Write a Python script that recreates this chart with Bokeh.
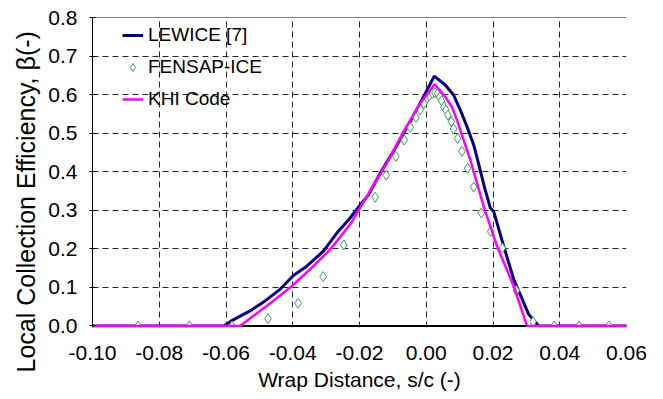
from bokeh.plotting import figure
from bokeh.models import Range1d, FixedTicker, Legend, LegendItem, Span, Title
from bokeh.embed import file_html
from bokeh.resources import INLINE

# ---- data ----
lewice_x = [-0.1000, -0.0606, -0.0584, -0.0528, -0.0483, -0.0438, -0.0398, -0.0358, -0.0308,
            -0.0268, -0.0228, -0.0208, -0.0173, -0.0138, -0.0093, -0.0048, -0.0013, 0.0024,
            0.0057, 0.0082, 0.0102, 0.0122, 0.0142, 0.0159, 0.0175, 0.0192, 0.0202, 0.0232,
            0.0262, 0.0307, 0.0337, 0.0600]
lewice_y = [0.0, 0.0, 0.013, 0.039, 0.065, 0.095, 0.131, 0.155, 0.194,
            0.241, 0.280, 0.303, 0.340, 0.396, 0.461, 0.530, 0.586, 0.648,
            0.625, 0.599, 0.560, 0.517, 0.470, 0.413, 0.358, 0.306, 0.297, 0.207,
            0.121, 0.030, 0.0, 0.0]

fensap_x = [-0.0864, -0.0710, -0.0582, -0.0474, -0.0384, -0.0309, -0.0247, -0.0153, -0.0120,
            -0.0091, -0.0066, -0.0048, -0.0031, -0.0018, -0.0007, 0.0002, 0.0010, 0.0018,
            0.0026, 0.0034, 0.0040, 0.0046, 0.0053, 0.0059, 0.0065, 0.0075, 0.0082, 0.0094,
            0.0107, 0.0124, 0.0142, 0.0165, 0.0193, 0.0228, 0.0270, 0.0320, 0.0383, 0.0458,
            0.0547]
fensap_y = [0.0, 0.0, 0.0, 0.019, 0.059, 0.128, 0.210, 0.334, 0.391,
            0.440, 0.482, 0.515, 0.541, 0.560, 0.577, 0.590, 0.598, 0.603,
            0.605, 0.603, 0.594, 0.584, 0.568, 0.560, 0.547, 0.530, 0.511, 0.486,
            0.453, 0.409, 0.360, 0.293, 0.245, 0.202, 0.092, 0.011, 0.0, 0.0,
            0.0]

khi_x = [-0.1011, -0.0558, -0.0518, -0.0458, -0.0403, -0.0348, -0.0288, -0.0228, -0.0178,
         -0.0118, -0.0068, -0.0018, 0.0025, 0.0057, 0.0077, 0.0092, 0.0112, 0.0132,
         0.0152, 0.0172, 0.0212, 0.0262, 0.0302, 0.0612]
khi_y = [0.0, 0.0, 0.026, 0.065, 0.103, 0.147, 0.198, 0.263, 0.336,
         0.422, 0.504, 0.577, 0.627, 0.594, 0.568, 0.534, 0.482, 0.431,
         0.371, 0.310, 0.207, 0.103, 0.0, 0.0]

x_ticks = [-0.10, -0.08, -0.06, -0.04, -0.02, 0.00, 0.02, 0.04, 0.06]
x_tick_labels = ["-0.10", "-0.08", "-0.06", "-0.04", "-0.02", "0.00", "0.02", "0.04", "0.06"]
y_ticks = [0.0, 0.1, 0.2, 0.3, 0.4, 0.5, 0.6, 0.7, 0.8]
y_tick_labels = ["0.0", "0.1", "0.2", "0.3", "0.4", "0.5", "0.6", "0.7", "0.8"]

series_names = ["LEWICE [7]", "FENSAP-ICE", "KHI Code"]
x_title = "Wrap Distance, s/c (-)"
y_title = "Local Collection Efficiency, \u03b2(-)"

FONT = "Liberation Sans"
GREEN = "#3f9a6a"

p = figure(width=663, height=399, output_backend="svg", toolbar_location=None,
           x_range=Range1d(-0.10, 0.06), y_range=Range1d(-0.004, 0.8))
p.min_border_left = 92
p.min_border_right = 37
p.min_border_top = 17
p.min_border_bottom = 72
p.outline_line_color = None
p.background_fill_color = "white"
p.border_fill_color = "white"

# axes
p.xaxis.ticker = FixedTicker(ticks=x_ticks)
p.xaxis.major_label_overrides = dict(zip(x_ticks, x_tick_labels))
p.xaxis.axis_line_color = None
p.xaxis.major_tick_line_color = None
p.xaxis.minor_tick_line_color = None
p.xaxis.major_label_standoff = 12
p.xaxis.axis_label = x_title
p.xaxis.axis_label_standoff = 5

p.yaxis.ticker = FixedTicker(ticks=y_ticks)
p.yaxis.major_label_overrides = dict(zip(y_ticks, y_tick_labels))
p.yaxis.axis_line_color = "black"
p.yaxis.axis_line_width = 1
p.yaxis.major_tick_line_color = "black"
p.yaxis.major_tick_in = 3
p.yaxis.major_tick_out = 3
p.yaxis.minor_tick_line_color = None
p.yaxis.major_label_standoff = 12

for ax in (p.xaxis, p.yaxis):
    ax.major_label_text_font = FONT
    ax.major_label_text_font_size = "21px"
    ax.major_label_text_color = "black"
    ax.axis_label_text_font = FONT
    ax.axis_label_text_font_style = "normal"
    ax.axis_label_text_color = "black"
p.xaxis.axis_label_text_font_size = "21px"

# y title placed as a side title so it can start below the frame, as in the reference
ytitle = Title(text=y_title, align="left", offset=-45, standoff=12,
               text_font=FONT, text_font_size="25px", text_font_style="normal",
               text_color="black")
p.add_layout(ytitle, "left")

# grids
p.xgrid.ticker = FixedTicker(ticks=x_ticks)
p.ygrid.ticker = FixedTicker(ticks=y_ticks)
for g in (p.xgrid, p.ygrid):
    g.grid_line_color = "black"
    g.grid_line_width = 1
    g.grid_line_dash = "6 4"
    g.grid_line_alpha = 0.85

zero_line = Span(location=0.0, dimension="width", line_color="black", line_width=2, level="underlay")
top_line = Span(location=0.8, dimension="width", line_color="black", line_width=1, level="underlay")
p.add_layout(zero_line)
p.add_layout(top_line)

r_lew = p.line(lewice_x, lewice_y, line_color="#000080", line_width=3)
r_fen = p.scatter(fensap_x, fensap_y, marker="diamond", size=10,
                  fill_color="white", line_color=GREEN, line_width=1)
r_khi = p.line(khi_x, khi_y, line_color="#ff00ff", line_width=2.5)

legend = Legend(items=[LegendItem(label=series_names[0], renderers=[r_lew]),
                       LegendItem(label=series_names[1], renderers=[r_fen]),
                       LegendItem(label=series_names[2], renderers=[r_khi])],
                location=(30, 217))
legend.border_line_color = None
legend.background_fill_alpha = 0
legend.padding = 0
legend.margin = 0
legend.spacing = 10
legend.glyph_width = 21
legend.glyph_height = 20
legend.label_height = 20
legend.label_standoff = 5
legend.label_text_font = FONT
legend.label_text_font_size = "19px"
legend.label_text_color = "black"
p.add_layout(legend)

open("out.html", "w").write(file_html(p, INLINE))
